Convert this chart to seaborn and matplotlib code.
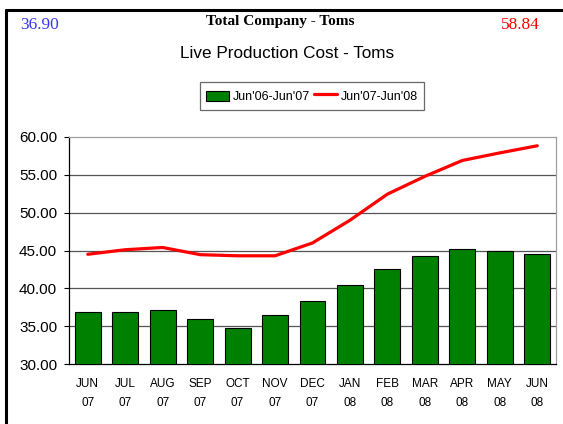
import numpy as np
import pandas as pd
import seaborn as sns
import matplotlib
matplotlib.use("Agg")
import matplotlib.pyplot as plt
from matplotlib.lines import Line2D
from matplotlib.patches import Patch, Rectangle
from matplotlib.legend_handler import HandlerPatch

months = ["JUN\n07", "JUL\n07", "AUG\n07", "SEP\n07", "OCT\n07", "NOV\n07", "DEC\n07",
          "JAN\n08", "FEB\n08", "MAR\n08", "APR\n08", "MAY\n08", "JUN\n08"]
cost_06_07 = [36.90, 36.90, 37.15, 35.90, 34.80, 36.45, 38.30, 40.50, 42.50, 44.30, 45.15, 44.90, 44.60]
cost_07_08 = [44.50, 45.10, 45.40, 44.45, 44.30, 44.30, 46.00, 49.00, 52.45, 54.80, 56.90, 57.90, 58.84]
series_labels = ["Jun'06-Jun'07", "Jun'07-Jun'08"]
yticks = [30, 35, 40, 45, 50, 55, 60]

sns.set_theme(style="white")
plt.rcParams['font.family'] = ['Liberation Sans', 'DejaVu Sans']
plt.rcParams['text.color'] = 'black'
plt.rcParams['xtick.color'] = 'black'
plt.rcParams['ytick.color'] = 'black'
plt.rcParams['xtick.labelcolor'] = 'black'
plt.rcParams['ytick.labelcolor'] = 'black'

df = pd.DataFrame({"month": months, "a": cost_06_07, "b": cost_07_08})
df["pos"] = np.arange(len(df))

fig = plt.figure(figsize=(5.63, 4.24), dpi=100)
ax = fig.add_axes([69/563, 1-364/424, (556-69)/563, (364-137)/424])

sns.barplot(data=df, x="month", y="a", color="#008000", saturation=1, width=0.69,
            edgecolor="black", linewidth=0.8, ax=ax, zorder=3)
sns.lineplot(data=df, x="pos", y="b", color="#ff0000", linewidth=2.3, ax=ax, zorder=4,
             sort=False)

ax.set_ylim(30, 60)
ax.set_xlim(-0.5, len(months) - 0.5)
ax.set_yticks(yticks)
ax.set_yticklabels([f"{v:.2f}" for v in yticks], fontsize=11)
ax.set_xticks(range(len(months)))
ax.set_xticklabels(months, fontsize=8.5, linespacing=1.8)
ax.set_xlabel("")
ax.set_ylabel("")
ax.set_xticks(np.arange(-0.5, len(months), 1), minor=True)
ax.tick_params(axis="x", which="major", length=0, pad=10)
ax.tick_params(axis="x", which="minor", length=3.5, width=0.8, color="black", direction="out")
ax.tick_params(axis="y", length=3.5, width=0.8, color="black", direction="out", pad=5, left=True)

for v in yticks[1:-1]:
    ax.axhline(v, color="#555555", linewidth=0.9, zorder=1)

for s in ["left", "bottom"]:
    ax.spines[s].set_color("black")
    ax.spines[s].set_linewidth(0.9)
for s in ["top", "right"]:
    ax.spines[s].set_color("#a0a0a0")
    ax.spines[s].set_linewidth(0.9)


class SmallPatch(HandlerPatch):
    def create_artists(self, legend, orig_handle, xdescent, ydescent, width, height,
                       fontsize, trans):
        h = fontsize * 0.75
        r = Rectangle((-xdescent, -ydescent + (height - h) / 2), width, h,
                      facecolor=orig_handle.get_facecolor(),
                      edgecolor=orig_handle.get_edgecolor(),
                      linewidth=orig_handle.get_linewidth(), transform=trans)
        return [r]


handles = [Patch(facecolor="#008000", edgecolor="black", linewidth=0.8),
           Line2D([0], [0], color="#ff0000", linewidth=2.3)]
leg = fig.legend(handles, series_labels, loc="center", bbox_to_anchor=(312/563, 1-96/424),
                 ncol=2, frameon=True, fancybox=False, fontsize=9, handlelength=1.85,
                 handletextpad=0.3, columnspacing=0.35, borderpad=0.45, handleheight=1.6,
                 handler_map={Patch: SmallPatch()})
leg.get_frame().set_edgecolor("#444444")
leg.get_frame().set_linewidth(0.9)

fig.text(280/563, 1-21/424, "Total Company - Toms", ha="center", va="center",
         family="Liberation Serif", fontweight="bold", fontsize=11)
fig.text(287/563, 1-54/424, "Live Production Cost - Toms", ha="center", va="center", fontsize=12.3)
fig.text(20/563, 1-25/424, f"{cost_06_07[0]:.2f}", ha="left", va="center",
         family="Liberation Serif", fontsize=12.5, color="#3a3ae8")
fig.text(540/563, 1-25/424, f"{cost_07_08[-1]:.2f}", ha="right", va="center",
         family="Liberation Serif", fontsize=12.5, color="#ff0000")

fig.add_artist(Line2D([6/563, 1.0], [1-9.5/424, 1-9.5/424], transform=fig.transFigure,
                      color="black", linewidth=2.2))
fig.add_artist(Line2D([6/563, 6/563], [1-9.5/424, 0], transform=fig.transFigure,
                      color="black", linewidth=2.2))

fig.savefig("out.png", dpi=100, facecolor="white")
